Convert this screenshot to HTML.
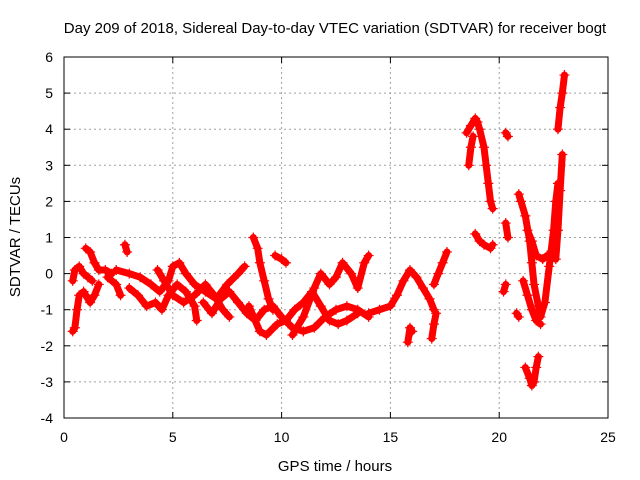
<!DOCTYPE html>
<html><head><meta charset="utf-8"><style>
body{margin:0;background:#fff;}
svg{display:block;font-family:"Liberation Sans",sans-serif;}
</style></head><body>
<svg id="chart" width="640" height="480">
<text x="335" y="33" font-size="15" text-anchor="middle">Day 209 of 2018, Sidereal Day-to-day VTEC variation (SDTVAR) for receiver bogt</text>
<text x="335" y="471" font-size="15" text-anchor="middle">GPS time / hours</text>
<text transform="translate(20,237) rotate(-90)" font-size="15" text-anchor="middle">SDTVAR / TECUs</text>
<g id="grid"></g><g id="marks"></g>
<rect x="64" y="57" width="544" height="361" fill="none" stroke="#000" stroke-width="1"/>
</svg>
<script>
const xTicks=[0,5,10,15,20,25];
const yTicks=[-4,-3,-2,-1,0,1,2,3,4,5,6];
const tracks=[
[[0.4,-1.6],[0.5,-1.5],[0.6,-1.0],[0.7,-0.6],[0.9,-0.5],[1.0,-0.6],[1.2,-0.8],[1.4,-0.6],[1.6,-0.3]],
[[0.4,-0.2],[0.5,0.1],[0.7,0.2],[0.9,0.0],[1.1,-0.1],[1.3,-0.2]],
[[1.0,0.7],[1.2,0.6],[1.4,0.3],[1.6,0.1],[1.9,0.1],[2.2,0.0]],
[[2.8,0.8],[2.9,0.6]],
[[2.0,-0.1],[2.4,-0.3],[2.6,-0.6]],
[[2.4,0.1],[3.0,0.0],[3.5,-0.1],[4.0,-0.3],[4.4,-0.5],[4.8,-0.2],[5.0,0.2],[5.3,0.3],[5.6,0.0],[6.0,-0.3],[6.5,-0.5],[7.0,-0.7],[7.5,-0.3],[8.0,0.0],[8.3,0.2]],
[[3.0,-0.4],[3.4,-0.6],[3.8,-0.9],[4.2,-0.8],[4.5,-1.0],[4.8,-0.6],[5.2,-0.3],[5.6,-0.5],[6.0,-0.9],[6.1,-1.3]],
[[4.3,0.1],[4.6,-0.2],[5.0,-0.6],[5.5,-0.8],[6.0,-0.6],[6.5,-0.3],[6.9,-0.6],[7.3,-1.0],[7.6,-1.2]],
[[6.4,-0.8],[6.8,-1.1],[7.2,-0.7],[7.6,-0.5],[8.0,-0.8],[8.4,-1.1],[8.8,-1.3],[9.2,-1.0],[9.6,-0.9],[10.0,-1.2],[10.5,-1.5],[11.0,-1.6],[11.5,-1.5],[12.0,-1.2],[12.5,-1.0],[13.0,-0.9],[13.5,-1.0],[14.0,-1.2]],
[[8.7,1.0],[8.9,0.7],[9.0,0.3],[9.2,-0.2],[9.4,-0.7],[9.6,-1.0]],
[[9.7,0.5],[10.0,0.4],[10.2,0.3]],
[[8.5,-0.9],[9.0,-1.6],[9.3,-1.7],[9.8,-1.4],[10.2,-1.3],[10.6,-1.0],[11.0,-0.8],[11.4,-0.5],[11.8,-0.9],[12.2,-1.3],[12.6,-1.4],[13.0,-1.3],[13.5,-1.1]],
[[10.5,-1.7],[11.0,-1.2],[11.5,-0.4],[11.8,0.0],[12.2,-0.3],[12.5,-0.1],[12.8,0.3],[13.2,0.0],[13.5,-0.4],[13.8,0.3],[14.0,0.5]],
[[14.0,-1.1],[14.5,-1.0],[15.0,-0.9],[15.3,-0.6],[15.6,-0.2],[15.9,0.1],[16.2,-0.1],[16.5,-0.4],[16.8,-0.7],[17.0,-1.0]],
[[15.8,-1.9],[15.9,-1.5],[16.0,-1.6]],
[[16.9,-1.8],[17.0,-1.4],[17.1,-1.1]],
[[17.0,-0.3],[17.2,0.0],[17.4,0.3],[17.6,0.6]],
[[18.5,3.9],[18.7,4.1],[18.9,4.3],[19.0,4.2],[19.1,4.0],[19.3,3.5],[19.4,3.0],[19.5,2.5],[19.6,2.0],[19.7,1.8]],
[[18.6,3.0],[18.7,3.5],[18.8,3.8]],
[[18.9,1.1],[19.1,0.9],[19.3,0.8],[19.6,0.7],[19.7,0.8]],
[[20.3,3.9],[20.4,3.8]],
[[20.2,-0.5],[20.3,-0.3]],
[[20.3,1.4],[20.4,1.0]],
[[20.8,-1.1],[20.9,-1.2]],
[[20.9,2.2],[21.0,2.0],[21.2,1.6],[21.4,0.9],[21.5,0.3],[21.6,-0.3],[21.8,-0.9],[21.9,-1.2],[22.1,-0.8],[22.3,0.2],[22.5,1.2],[22.6,2.0],[22.7,2.5]],
[[21.2,-2.6],[21.4,-2.9],[21.5,-3.1],[21.6,-3.0],[21.7,-2.6],[21.8,-2.3]],
[[21.3,1.2],[21.5,0.9],[21.7,0.5],[22.0,0.4],[22.2,0.5]],
[[21.1,-0.2],[21.3,-0.6],[21.5,-1.0],[21.7,-1.3],[21.9,-1.4]],
[[22.6,0.4],[22.7,1.2],[22.8,2.3],[22.9,3.3]],
[[22.7,4.0],[22.8,4.6],[22.9,5.0],[23.0,5.5]]
];
const NS='http://www.w3.org/2000/svg';
const X=v=>64+v*544/25, Y=v=>418-(v+4)*361/10;
const grid=document.getElementById('grid'), marks=document.getElementById('marks');
function mk(t,a,p){const e=document.createElementNS(NS,t);for(const k in a)e.setAttribute(k,a[k]);p.appendChild(e);return e;}
xTicks.forEach(v=>{
  const x=X(v);
  if(v>0&&v<25){const g=mk('line',{x1:x,x2:x,y1:57,y2:418,stroke:'#a0a0a0','stroke-dasharray':'2,3'},grid);
  
  }
  mk('line',{x1:x,x2:x,y1:418,y2:412,stroke:'#000'},grid);
  mk('line',{x1:x,x2:x,y1:57,y2:63,stroke:'#000'},grid);
  const t=mk('text',{x:x,y:442,'font-size':14,'text-anchor':'middle'},grid);t.textContent=v;
  
  
});
yTicks.forEach(v=>{
  const y=Y(v);
  if(v>-4&&v<6){const g=mk('line',{x1:64,x2:608,y1:y,y2:y,stroke:'#a0a0a0','stroke-dasharray':'2,3'},grid);
  
  }
  mk('line',{x1:64,x2:70,y1:y,y2:y,stroke:'#000'},grid);
  mk('line',{x1:602,x2:608,y1:y,y2:y,stroke:'#000'},grid);
  const t=mk('text',{x:53,y:y+5,'font-size':14,'text-anchor':'end'},grid);t.textContent=v;
  
  
});
tracks.forEach(tr=>{
  const pl=mk('polyline',{points:tr.map(p=>X(p[0])+','+Y(p[1])).join(' '),fill:'none',stroke:'#f00','stroke-width':7,'stroke-linejoin':'round','stroke-linecap':'round'},marks);
  
  
  tr.forEach(p=>{
    const x=X(p[0]),y=Y(p[1]);
    const m=mk('path',{d:`M${x-5},${y}h10M${x},${y-5}v10`,stroke:'#f00','stroke-width':1.2},marks);
    
    
  });
});
</script>
</body></html>
